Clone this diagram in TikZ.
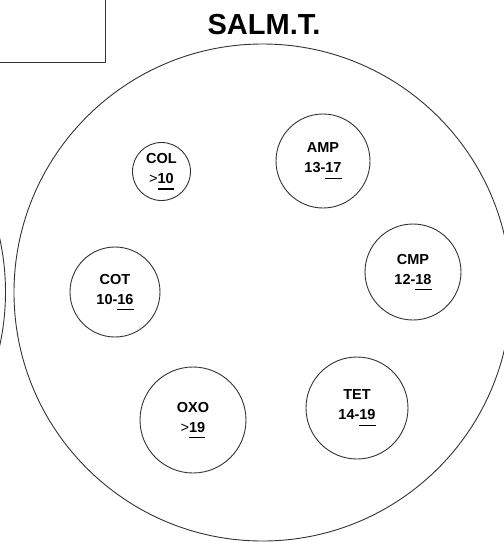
\documentclass[tikz,border=0pt]{standalone}
\usepackage{fontspec}
\setmainfont{Liberation Sans}
\newsavebox\ulbox
\newcommand\ulnum[1]{\sbox\ulbox{#1}\makebox[0pt][l]{\raisebox{-6pt}{\rule{\wd\ulbox}{1.3pt}}}\usebox\ulbox}
\begin{document}
\begin{tikzpicture}[x=1pt,y=-1pt,
  ln/.style={draw=black!80,line width=0.9pt},
  dish/.style={circle,ln,inner sep=0pt,align=center,font=\fontsize{14.5}{20}\selectfont\bfseries},
  ttl/.style={font=\fontsize{29}{32}\selectfont\bfseries}]
\path[use as bounding box] (0,0) rectangle (504,542);
\clip (0,0) rectangle (504,542);
\draw[ln] (-10,-10) rectangle (105,62);
\node[ttl] (title) at (264,25) {SALM.T.};
\draw[ln] (262.5,292.5) circle[radius=248.5pt];
\draw[ln] (-243,292) circle[radius=248.5pt];
\node[dish,minimum size=58pt] (col) at (161.5,171.5) {COL\\{\mdseries>}\ulnum{10}};
\node[dish,minimum size=94pt] (amp) at (323,161) {AMP\\13-\ulnum{17}};
\node[dish,minimum size=90pt] (cot) at (115,292) {COT\\10-\ulnum{16}};
\node[dish,minimum size=96pt] (cmp) at (413,272) {CMP\\12-\ulnum{18}};
\node[dish,minimum size=106pt] (oxo) at (193,420) {OXO\\{\mdseries>}\ulnum{19}};
\node[dish,minimum size=102pt] (tet) at (357,408) {TET\\14-\ulnum{19}};
\end{tikzpicture}
\end{document}
